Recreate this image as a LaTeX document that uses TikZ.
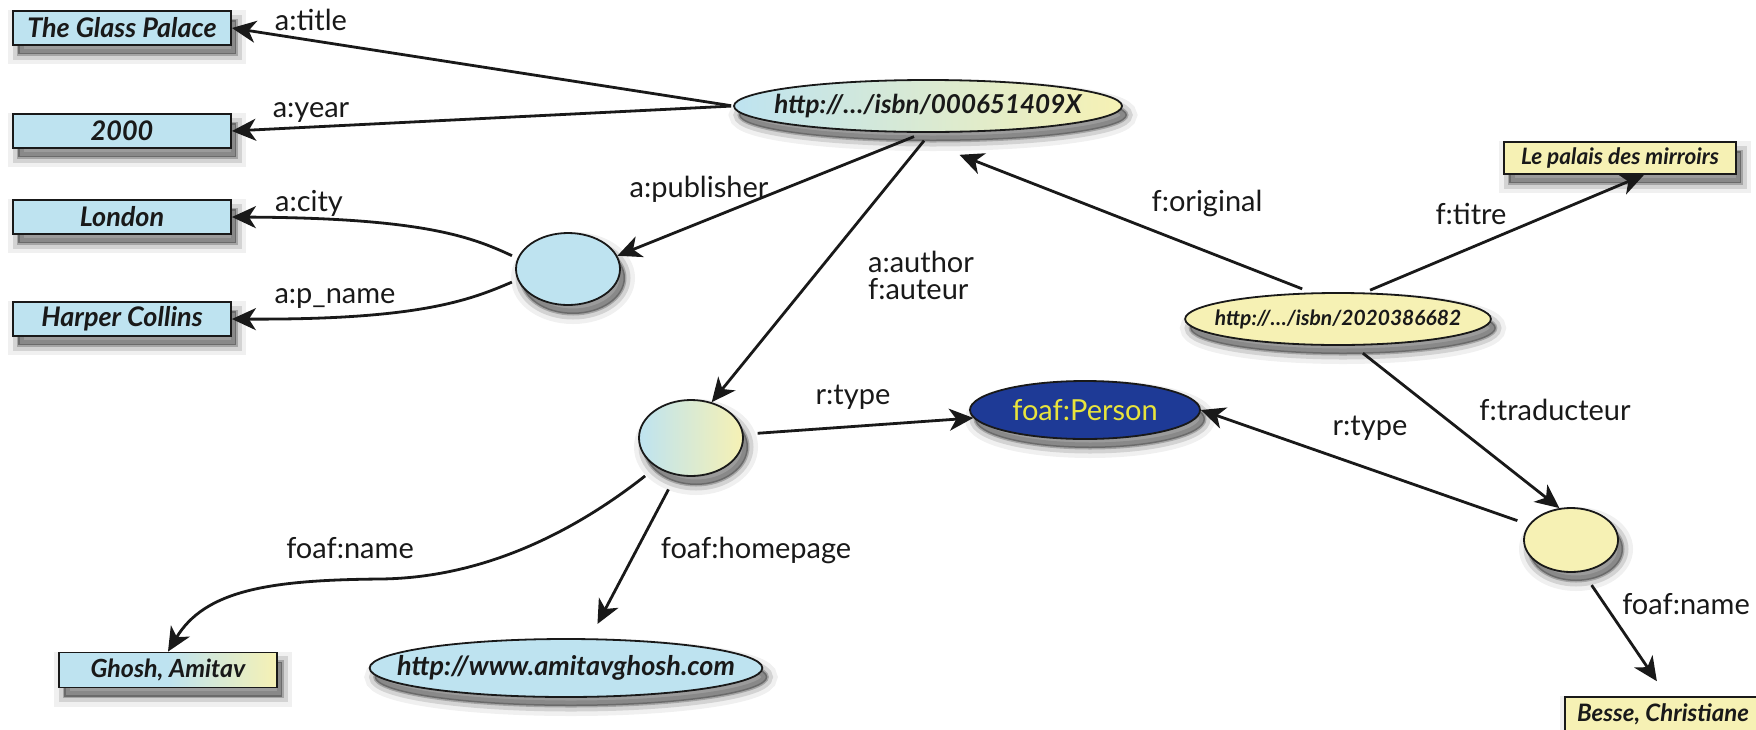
\documentclass[tikz,border=0pt]{standalone}
\usepackage{fontspec}
\setmainfont{Lato}
\usetikzlibrary{shapes.geometric,arrows.meta,shadows}
\definecolor{blueL}{RGB}{190,227,240}
\definecolor{yelL}{RGB}{246,241,180}
\definecolor{navyP}{RGB}{30,58,150}
\definecolor{yelT}{RGB}{232,228,60}
\definecolor{inkC}{RGB}{25,25,25}
\tikzset{
  shad/.style={
    drop shadow={shadow xshift=2.5pt, shadow yshift=-4.5pt, opacity=0.06, fill=black, draw=black, line width=10pt},
    drop shadow={shadow xshift=2.5pt, shadow yshift=-4.5pt, opacity=0.12, fill=black, draw=black, line width=5.5pt},
    drop shadow={shadow xshift=2.5pt, shadow yshift=-4.5pt, opacity=0.22, fill=black, draw=black, line width=1.5pt}},
  litbox/.style={rectangle, draw=inkC, line width=0.9pt, inner sep=0pt, shad, text=inkC,
    font=\fontsize{13.5}{15}\selectfont\bfseries\itshape},
  resell/.style={ellipse, draw=inkC, line width=0.9pt, inner ysep=0pt, shad, text=inkC,
    font=\fontsize{13.5}{15}\selectfont\bfseries\itshape},
  lbl/.style={inner sep=0pt, text=inkC, font=\fontsize{14.5}{16}\selectfont},
  arr/.style={-{Stealth[length=12pt,width=11pt,inset=3.5pt]}, line width=1.4pt, draw=inkC},
}
\begin{document}
\begin{tikzpicture}[x=0.5pt,y=-0.5pt]
\useasboundingbox (0,0) rectangle (1756,729);
\clip (0,0) rectangle (1756,729);
% literal boxes (left)
\node[litbox, fill=blueL, minimum width=109pt, minimum height=17pt] (glass) at (122,28) {The Glass Palace};
\node[litbox, fill=blueL, minimum width=109pt, minimum height=17pt] (yr) at (122,131) {2000};
\node[litbox, fill=blueL, minimum width=109pt, minimum height=17pt] (london) at (122,217) {London};
\node[litbox, fill=blueL, minimum width=109pt, minimum height=17pt] (harper) at (122,319) {Harper Collins};
% resources
\node[resell, inner xsep=-9pt, left color=blueL, right color=yelL, minimum width=194pt, minimum height=26pt, font=\fontsize{13}{15}\selectfont\bfseries\itshape] (isbnA) at (928,106) {http://…/isbn/000651409X};
\node[resell, inner xsep=0pt, fill=blueL, minimum width=52pt, minimum height=36pt] (pub) at (568,269) {};
\node[resell, inner xsep=-7.5pt, fill=yelL, minimum width=151pt, minimum height=26pt, font=\fontsize{10.5}{12}\selectfont\bfseries\itshape] (isbnB) at (1338,319) {http://…/isbn/2020386682};
\node[litbox, fill=yelL, minimum width=116pt, minimum height=16pt, font=\fontsize{11.3}{12}\selectfont\bfseries\itshape] (palais) at (1620,158) {Le palais des mirroirs};
\node[resell, inner xsep=0pt, left color=blueL, right color=yelL, minimum width=52pt, minimum height=38pt] (auth) at (691,438) {};
\node[ellipse, draw=inkC, line width=0.9pt, inner sep=0pt, shad, fill=navyP, text=yelT, minimum width=115pt, minimum height=29pt, font=\fontsize{14.5}{16}\selectfont] (person) at (1085,410) {foaf:Person};
\node[resell, inner xsep=0pt, fill=yelL, minimum width=47pt, minimum height=32pt] (trans) at (1571,540) {};
\node[litbox, left color=blueL, right color=yelL, middle color=blueL, minimum width=109pt, minimum height=17.5pt, font=\fontsize{12.5}{14}\selectfont\bfseries\itshape] (ghosh) at (168,670) {Ghosh, Amitav};
\node[resell, inner xsep=-15pt, fill=blueL, minimum width=194pt, minimum height=29pt] (home) at (566,668) {http://www.amitavghosh.com};
\node[litbox, fill=yelL, minimum width=98pt, minimum height=17pt, font=\fontsize{12}{13}\selectfont\bfseries\itshape] (besse) at (1663,714) {Besse, Christiane};
% edge labels
\node[lbl] (ltitle) at (311,20) {a:title};
\node[lbl] (lyear) at (311,113) {a:year};
\node[lbl] (lcity) at (309,203) {a:city};
\node[lbl] (lpname) at (335,299) {a:p\_name};
\node[lbl] (lpub) at (699,189) {a:publisher};
\node[lbl, align=left, font=\fontsize{14.5}{13.5}\selectfont] (lauth) at (921,275) {a:author\\f:auteur};
\node[lbl] (lorig) at (1207,203) {f:original};
\node[lbl] (ltitre) at (1471,214) {f:titre};
\node[lbl] (ltrad) at (1555,410) {f:traducteur};
\node[lbl] (ltype1) at (853,397) {r:type};
\node[lbl] (ltype2) at (1370,428) {r:type};
\node[lbl] (lfname1) at (350,548) {foaf:name};
\node[lbl] (lhome) at (756,550) {foaf:homepage};
\node[lbl] (lfname2) at (1686,604) {foaf:name};
% connectors
\draw[arr, shorten <=1pt] (isbnA.west) -- (glass.east);
\draw[arr, shorten <=1pt] (isbnA.west) -- (yr.east);
\draw[arr, shorten <=3pt] (pub.168) .. controls (470,236) and (420,218) .. (london.east);
\draw[arr, shorten <=3pt] (pub.192) .. controls (470,300) and (420,320) .. (harper.east);
\draw[arr, shorten <=5pt] (isbnA.-100) -- (pub.15);
\draw[arr, shorten <=5pt] (isbnA.-85) -- (auth.60);
\draw[arr, shorten <=5pt] (isbnB.135) -- ([xshift=8pt,yshift=-11pt]isbnA.-60);
\draw[arr, shorten <=3pt] (isbnB.45) -- ([xshift=12pt]palais.south);
\draw[arr, shorten <=6pt] (isbnB.-60) -- (trans.110);
\draw[arr, shorten <=7pt] (auth) -- (person);
\draw[arr, shorten <=6pt] (trans.160) -- (person.east);
\draw[arr, shorten <=7pt] (auth.-140) .. controls (570,535) and (480,578) .. (380,579) .. controls (270,580) and (205,590) .. (ghosh.north);
\draw[arr, shorten <=8pt, shorten >=8pt] (auth.-112) -- ([xshift=12pt]home.north);
\draw[arr, shorten <=8pt, shorten >=9pt] (trans.-70) -- ([xshift=2pt]besse.north);
\end{tikzpicture}
\end{document}
